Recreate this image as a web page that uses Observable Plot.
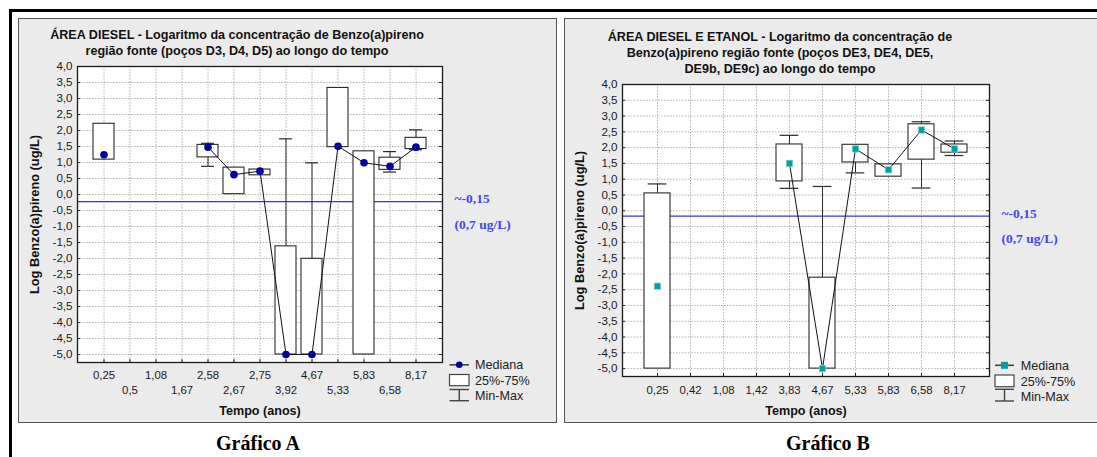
<!DOCTYPE html>
<html><head><meta charset="utf-8">
<script src="https://cdn.jsdelivr.net/npm/d3@7"></script>
<script src="https://cdn.jsdelivr.net/npm/@observablehq/plot@0.6"></script>
<style>
body{margin:0;background:#fff;font-family:"Liberation Sans",Arial,sans-serif;}
#root{position:relative;width:1097px;height:457px;overflow:hidden;background:#fff;}
.bar{position:absolute;background:#000;}
.panel{position:absolute;background:#ebebeb;border:1px solid #555;box-sizing:border-box;}
.chart{position:absolute;}
.title{position:absolute;text-align:center;font-weight:bold;font-size:12.6px;line-height:16.3px;color:#111;white-space:nowrap;}
.caption{position:absolute;font-family:"Liberation Serif","Times New Roman",serif;font-weight:bold;font-size:20px;transform:translate(-50%,-50%);color:#000;white-space:nowrap;}
.legend{position:absolute;left:0;top:0;overflow:visible;}
</style></head><body><div id="root"></div>
<script>
// ---------- data ----------
const yTicks = [-5,-4.5,-4,-3.5,-3,-2.5,-2,-1.5,-1,-0.5,0,0.5,1,1.5,2,2.5,3,3.5,4];

// Gráfico A
const catsA = ["0,25","0,5","1,08","1,67","2,58","2,67","2,75","3,92","4,67","5,33","5,83","6,58","8,17"];
const row1A = ["0,25","1,08","2,58","2,75","4,67","5,83","8,17"];
const row2A = ["0,5","1,67","2,67","3,92","5,33","6,58"];
const minA = [1.09, null, null, null, 0.88, 0.01, 0.60, -5.0, -5.0, 1.48, -5.0, 0.70, 1.40];
const q1A  = [1.09, null, null, null, 1.16, 0.01, 0.60, -5.0, -5.0, 1.48, -5.0, 0.77, 1.42];
const medA = [1.24, null, null, null, 1.48, 0.62, 0.73, -5.0, -5.0, 1.51, 0.99, 0.88, 1.48];
const q3A  = [2.21, null, null, null, 1.55, 0.84, 0.78, -1.62, -2.01, 3.33, 1.35, 1.15, 1.77];
const maxA = [2.21, null, null, null, 1.60, 0.84, 0.78, 1.74, 0.99, 3.33, 1.35, 1.34, 2.02];
const thrA = -0.22;

// Gráfico B
const catsB = ["0,25","0,42","1,08","1,42","3,83","4,67","5,33","5,83","6,58","8,17"];
const minB = [-5.0, null, null, null, 0.71, -5.0, 1.20, 1.08, 0.72, 1.75];
const q1B  = [-5.0, null, null, null, 0.93, -5.0, 1.53, 1.08, 1.62, 1.84];
const medB = [-2.39, null, null, null, 1.50, -5.0, 1.96, 1.30, 2.56, 1.96];
const q3B  = [0.55, null, null, null, 2.10, -2.12, 2.09, 1.47, 2.74, 2.10];
const maxB = [0.85, null, null, null, 2.39, 0.77, 2.09, 1.47, 2.82, 2.21];
const thrB = -0.17;

const thrLabel1 = "~-0,15";
const thrLabel2 = "(0,7 ug/L)";
const yLabel = "Log Benzo(a)pireno (ug/L)";
const xLabel = "Tempo (anos)";
const legendLabels = ["Mediana", "25%-75%", "Min-Max"];

// ---------- drawing ----------
const root = document.getElementById("root");
function div(cls, css, html) {
  const d = document.createElement("div");
  d.className = cls; Object.assign(d.style, css); if (html != null) d.innerHTML = html;
  root.appendChild(d); return d;
}
div("bar", {left:"9px", top:"9px", width:"1088px", height:"3px"});
div("bar", {left:"9px", top:"9px", width:"3px", height:"448px"});
div("panel", {left:"18px", top:"18px", width:"539px", height:"405px"});
div("panel", {left:"564px", top:"18px", width:"540px", height:"405px"});

const fmt = v => v.toFixed(1).replace(".", ",");

function chart(cfg) {
  const rows = cfg.cats.map((c, i) => ({c, min: cfg.min[i], q1: cfg.q1[i], med: cfg.med[i], q3: cfg.q3[i], max: cfg.max[i]}));
  const have = rows.filter(r => r.med != null);
  const pw = cfg.width - cfg.ml - cfg.mr, ph = cfg.height - cfg.mt - cfg.mb;
  const ink = "#2a2a2a";
  const marks = [
    Plot.frame({fill: "white"}),
    Plot.gridY({ticks: yTicks, stroke: "#b0b0b0", strokeOpacity: 1, strokeDasharray: "1.5,1.5"}),
    Plot.gridX({ticks: cfg.cats, stroke: "#b0b0b0", strokeOpacity: 1, strokeDasharray: "1.5,1.5"}),
    Plot.tickY(yTicks, {y: d => d, insetRight: pw - 3, stroke: ink}),
    Plot.tickY(yTicks, {y: d => d, insetLeft: pw - 3, stroke: ink}),
    Plot.tickX(cfg.cats, {x: d => d, insetTop: ph - 3, stroke: ink}),
    Plot.ruleY([cfg.thr], {y: d => d, stroke: "#3434e6", strokeWidth: 1.2}),
    Plot.ruleX(have, {x: "c", y1: "min", y2: "max", stroke: ink}),
    Plot.tickY(have.filter(r => r.max > r.q3), {x: "c", y: "max", inset: cfg.capInset, stroke: ink, strokeWidth: 1.2}),
    Plot.tickY(have.filter(r => r.min < r.q1), {x: "c", y: "min", inset: cfg.capInset, stroke: ink, strokeWidth: 1.2}),
    Plot.barY(have, {x: "c", y1: "q1", y2: "q3", fill: "white", stroke: ink, strokeWidth: 1.1}),
    Plot.lineY(rows, {x: "c", y: "med", stroke: "#111", strokeWidth: 1}),
    cfg.square
      ? Plot.dot(have, {x: "c", y: "med", symbol: "square", r: 3.7, fill: "#00a0a0", stroke: "#9fdcdc", strokeWidth: 0.7})
      : Plot.dot(have, {x: "c", y: "med", r: 3.8, fill: "#0000a0", stroke: "none"}),
    Plot.frame({stroke: "#1a1a1a", strokeWidth: 1.3}),
    Plot.text(yTicks, {y: d => d, text: d => fmt(d), frameAnchor: "left", dx: -5, textAnchor: "end", fill: "#1a1a1a", fontSize: 11.6}),
    Plot.text(cfg.row1, {x: d => d, text: d => d, frameAnchor: "bottom", dy: cfg.row1dy, textAnchor: "middle", lineAnchor: "middle", fill: "#1a1a1a", fontSize: 11.4}),
    Plot.text([thrLabel1], {y: () => cfg.thr, text: d => d, frameAnchor: "right", dx: 12, dy: -2.7, textAnchor: "start", fill: "#4646f0", fontFamily: "Liberation Serif, Times New Roman, serif", fontWeight: "bold", fontSize: 13.5}),
    Plot.text([thrLabel2], {y: () => cfg.thr, text: d => d, frameAnchor: "right", dx: 12, dy: 22.8, textAnchor: "start", fill: "#4646f0", fontFamily: "Liberation Serif, Times New Roman, serif", fontWeight: "bold", fontSize: 13.5}),
    Plot.text([xLabel], {text: d => d, frameAnchor: "bottom", dy: cfg.xLabelDy, textAnchor: "middle", lineAnchor: "middle", fontWeight: "bold", fontSize: 12.6, fill: "#111"}),
    Plot.text([yLabel], {text: d => d, frameAnchor: "left", dx: -43, rotate: -90, textAnchor: "middle", lineAnchor: "middle", fontWeight: "bold", fontSize: 12.8, fill: "#111"})
  ];
  if (cfg.row2) marks.push(Plot.text(cfg.row2, {x: d => d, text: d => d, frameAnchor: "bottom", dy: cfg.row2dy, textAnchor: "middle", lineAnchor: "middle", fill: "#1a1a1a", fontSize: 11.4}));
  const svg = Plot.plot({
    width: cfg.width, height: cfg.height,
    marginLeft: cfg.ml, marginRight: cfg.mr, marginTop: cfg.mt, marginBottom: cfg.mb,
    style: {background: "transparent", fontFamily: "Liberation Sans, Arial, sans-serif", fontSize: "11px", overflow: "visible"},
    x: {type: "band", domain: cfg.cats, paddingInner: cfg.pi, paddingOuter: (1 + cfg.pi) / 2, axis: null},
    y: {domain: [-5.25, 4], axis: null},
    marks
  });
  const holder = div("chart", {left: cfg.left + "px", top: cfg.top + "px"});
  holder.appendChild(svg);
}

chart({left: 19, top: 19, width: 537, height: 403, ml: 58, mr: 114, mt: 47, mb: 60,
  cats: catsA, min: minA, q1: q1A, med: medA, q3: q3A, max: maxA, thr: thrA,
  pi: 0.18, capInset: 4, row1: row1A, row2: row2A, row1dy: 13, row2dy: 28, xLabelDy: 48, square: false});
chart({left: 564, top: 19, width: 533, height: 403, ml: 58, mr: 108, mt: 65, mb: 46,
  cats: catsB, min: minB, q1: q1B, med: medB, q3: q3B, max: maxB, thr: thrB,
  pi: 0.2, capInset: 3.7, row1: catsB, row2: null, row1dy: 13.6, xLabelDy: 34, square: true});

// titles
div("title", {left: "37px", top: "27px", width: "400px"},
  "ÁREA DIESEL - Logaritmo da concentração de Benzo(a)pireno<br>região fonte (poços D3, D4, D5) ao longo do tempo");
div("title", {left: "580px", top: "28.5px", width: "400px"},
  "ÁREA DIESEL E ETANOL - Logaritmo da concentração de<br>Benzo(a)pireno região fonte (poços DE3, DE4, DE5,<br>DE9b, DE9c) ao longo do tempo");

// captions
div("caption", {left: "258px", top: "443px"}, "Gráfico A");
div("caption", {left: "828px", top: "443px"}, "Gráfico B");

// legends
function legend(x0, x1, tx, ys, boxY, capY, square) {
  const svg = d3.select(root).append("svg").attr("class", "legend").attr("width", 1097).attr("height", 457);
  const cx = (x0 + x1) / 2, c = "#444";
  svg.append("line").attr("x1", x0).attr("x2", x1).attr("y1", ys[0]).attr("y2", ys[0]).attr("stroke", c).attr("stroke-width", 1.6);
  if (square) svg.append("rect").attr("x", cx - 3.5).attr("y", ys[0] - 3.5).attr("width", 7).attr("height", 7).attr("fill", "#00a0a0");
  else svg.append("circle").attr("cx", cx).attr("cy", ys[0]).attr("r", 3.3).attr("fill", "#0000a0");
  svg.append("rect").attr("x", x0).attr("y", boxY[0]).attr("width", x1 - x0).attr("height", boxY[1] - boxY[0]).attr("fill", "white").attr("stroke", c).attr("stroke-width", 1.2);
  svg.append("line").attr("x1", x0).attr("x2", x1).attr("y1", capY[0]).attr("y2", capY[0]).attr("stroke", c).attr("stroke-width", 1.4);
  svg.append("line").attr("x1", x0).attr("x2", x1).attr("y1", capY[1]).attr("y2", capY[1]).attr("stroke", c).attr("stroke-width", 1.4);
  svg.append("line").attr("x1", cx).attr("x2", cx).attr("y1", capY[0]).attr("y2", capY[1]).attr("stroke", c).attr("stroke-width", 1.4);
  legendLabels.forEach((t, i) => {
    svg.append("text").attr("x", tx).attr("y", ys[i]).attr("dy", "0.36em").attr("font-size", 12.6)
      .attr("font-family", "Liberation Sans, Arial, sans-serif").attr("fill", "#222").text(t);
  });
}
legend(449.5, 469, 475, [364.8, 380.5, 395.3], [374.5, 385.7], [389.5, 400.7], false);
legend(995, 1014, 1020.7, [365.3, 381, 396], [375, 386.7], [389.3, 401], true);
</script></body></html>
